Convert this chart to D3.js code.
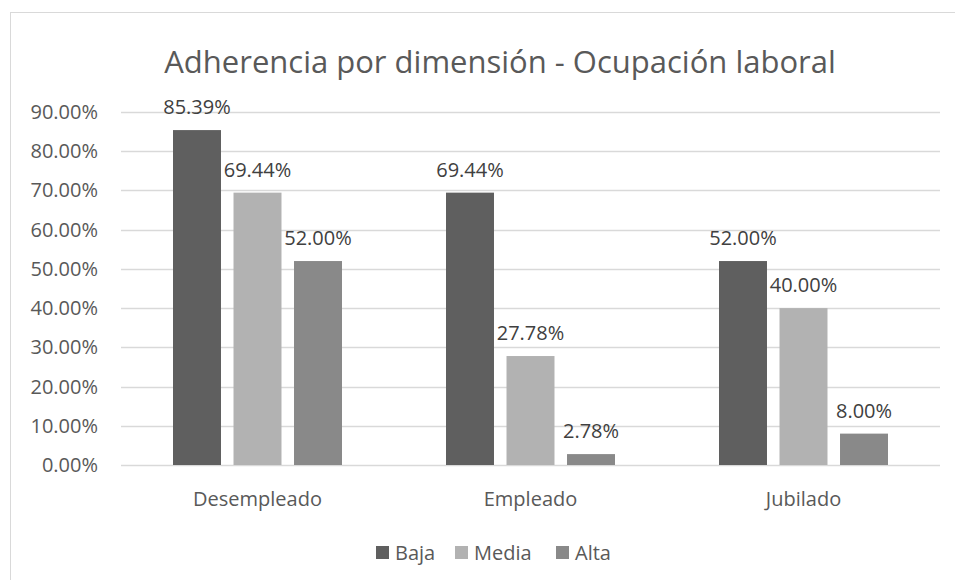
<!DOCTYPE html>
<html>
<head>
<meta charset="utf-8">
<script src="https://cdn.jsdelivr.net/npm/d3@7"></script>
<style>
  body { margin: 0; background: #fff; }
  text { font-family: "Open Sans", sans-serif; fill: #595959; }
  text.dlabel { fill: #404040; }
</style>
</head>
<body>
<div id="chart"></div>
<script>
var categories = ['Desempleado', 'Empleado', 'Jubilado'];
var series = ['Baja', 'Media', 'Alta'];
var baja = [85.39, 69.44, 52.00];
var media = [69.44, 27.78, 40.00];
var alta = [52.00, 2.78, 8.00];
var yTicks = [0, 10, 20, 30, 40, 50, 60, 70, 80, 90];
var colors = ['#5f5f5f', '#b2b2b2', '#898989'];

var values = [baja, media, alta];

var svg = d3.select('#chart').append('svg')
            .attr('width', 955).attr('height', 580);

// chart border (cut off at right and bottom)
svg.append('rect')
   .attr('x', 10.5).attr('y', 12.5)
   .attr('width', 1000).attr('height', 1000)
   .attr('fill', 'none').attr('stroke', '#d9d9d9');

var plotL = 121, plotR = 940, plotT = 112, plotB = 465;

var y = d3.scaleLinear().domain([0, 90]).range([plotB, plotT]);
var x0 = d3.scaleBand().domain(categories).range([plotL, plotR]);
var x1 = d3.scaleBand().domain(series).range([-84.5, 84.5]).paddingInner(0.207);

svg.append('text')
   .attr('x', 500).attr('y', 73)
   .attr('text-anchor', 'middle')
   .style('font-size', '31px')
   .text('Adherencia por dimensión - Ocupación laboral');

// gridlines
svg.selectAll('.grid').data(yTicks).enter().append('line')
   .attr('x1', plotL).attr('x2', plotR)
   .attr('y1', d => Math.round(y(d)) + 0.5).attr('y2', d => Math.round(y(d)) + 0.5)
   .attr('stroke', '#d9d9d9').attr('stroke-width', 1.5);

svg.selectAll('.ytick').data(yTicks).enter().append('text')
   .attr('x', 98).attr('y', d => y(d))
   .attr('dy', '0.35em')
   .attr('text-anchor', 'end')
   .style('font-size', '20px')
   .text(d => d.toFixed(2) + '%');

categories.forEach(function(c, i) {
  var g = svg.append('g').attr('transform', 'translate(' + (x0(c) + x0.bandwidth() / 2) + ',0)');
  series.forEach(function(s, j) {
    var v = values[j][i];
    g.append('rect')
     .attr('x', x1(s)).attr('width', x1.bandwidth())
     .attr('y', y(v)).attr('height', plotB - y(v))
     .attr('fill', colors[j]);
    g.append('text')
     .attr('class', 'dlabel')
     .attr('x', x1(s) + x1.bandwidth() / 2)
     .attr('y', y(v) - 16)
     .attr('text-anchor', 'middle')
     .style('font-size', '20px')
     .text(v.toFixed(2) + '%');
  });
  svg.append('text')
     .attr('x', x0(c) + x0.bandwidth() / 2).attr('y', 506)
     .attr('text-anchor', 'middle')
     .style('font-size', '20px')
     .text(c);
});

// legend
var legX = [376, 455, 556];
var leg = svg.selectAll('.leg').data(series).enter().append('g')
             .attr('transform', (d, i) => 'translate(' + legX[i] + ',546)');
leg.append('rect').attr('width', 13).attr('height', 13)
   .attr('fill', (d, i) => colors[i]);
leg.append('text').attr('x', 19).attr('y', 6.5).attr('dy', '0.35em')
   .style('font-size', '20px')
   .text(d => d);
</script>
</body>
</html>
